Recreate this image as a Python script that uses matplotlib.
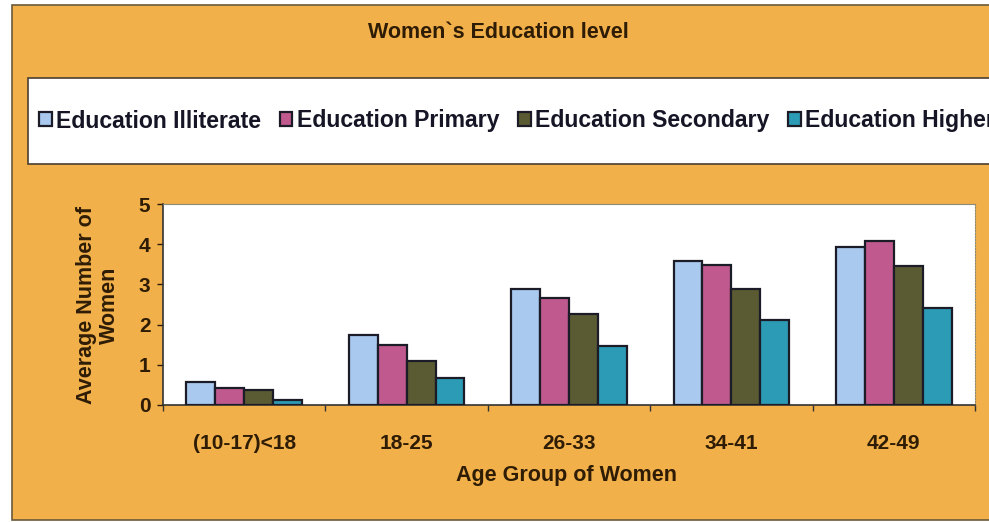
import numpy as np
import matplotlib.pyplot as plt
from matplotlib.patches import Rectangle

# data
ageGroups = ['(10-17)<18', '18-25', '26-33', '34-41', '42-49']
illiterate = [0.57, 1.74, 2.89, 3.58, 3.93]
primary = [0.43, 1.49, 2.67, 3.49, 4.08]
secondary = [0.38, 1.10, 2.27, 2.88, 3.47]
higher = [0.13, 0.67, 1.48, 2.12, 2.42]
seriesNames = ['Education Illiterate', 'Education Primary',
               'Education Secondary', 'Education Higher']
seriesColors = ['#A9C9EE', '#C05A8E', '#5B5B33', '#2C9BB5']

plt.rcParams['font.family'] = ['Liberation Sans', 'DejaVu Sans']
plt.rcParams['font.weight'] = 'bold'

bgColor = '#F1B04A'
txtColor = '#2E1C05'
W, H = 989, 522

fig = plt.figure(figsize=(W/100, H/100), dpi=100)
fig.patch.set_facecolor('white')

# orange panel and white legend strip
fig.add_artist(Rectangle((12/W, 2/H), 1.0, (H-7)/H, transform=fig.transFigure,
                         facecolor=bgColor, edgecolor='#6b5a3a', lw=1.2, zorder=0))
fig.add_artist(Rectangle((28/W, (H-164)/H), 1.0, 86/H, transform=fig.transFigure,
                         facecolor='white', edgecolor='#4a4030', lw=1.2, zorder=1))

ax = fig.add_axes([163/W, (H-405)/H, (975-163)/W, 201/H])
ax.set_facecolor('white')

x = np.arange(len(ageGroups))
width = 0.178
allSeries = [illiterate, primary, secondary, higher]
handles = []
for i, vals in enumerate(allSeries):
    b = ax.bar(x + (i - 1.5)*width, vals, width, color=seriesColors[i],
               edgecolor='#1c1c28', linewidth=1.6, label=seriesNames[i], zorder=3)
    handles.append(b)

ax.set_xlim(-0.5, len(ageGroups) - 0.5)
ax.set_ylim(0, 5)
ax.set_yticks(range(6))
ax.tick_params(axis='y', labelsize=15, colors=txtColor, length=4, width=1, pad=5)
ax.set_xticks(x)
ax.set_xticklabels(ageGroups)
ax.set_xticks(np.arange(-0.5, len(ageGroups), 1.0), minor=True)
ax.tick_params(axis='x', which='major', length=0, labelsize=15, colors=txtColor, pad=21)
ax.tick_params(axis='x', which='minor', length=4, width=1, color='#333333')
for lab in ax.get_xticklabels() + ax.get_yticklabels():
    lab.set_fontweight('bold')

for side in ['left', 'bottom']:
    ax.spines[side].set_color('#333333')
    ax.spines[side].set_linewidth(1.2)
ax.spines['top'].set_color('#8a8a7a')
ax.spines['right'].set_color('#8a8a7a')
ax.spines['right'].set_linestyle(':')

fig.text(498/W, 1 - 33/H, 'Women`s Education level', ha='center', va='center',
         fontsize=15.5, fontweight='bold', color=txtColor)
fig.text(566/W, 1 - 475/H, 'Age Group of Women', ha='center', va='center',
         fontsize=15.5, fontweight='bold', color=txtColor)
fig.text(98/W, 1 - 305/H, 'Average Number of\nWomen', ha='center', va='center',
         rotation=90, multialignment='center', fontsize=15.5, fontweight='bold',
         color=txtColor, linespacing=1.1)

leg = fig.legend(handles, seriesNames, loc='center left', bbox_to_anchor=(39/W, 1 - 121/H),
                 ncol=4, frameon=False, handlelength=0.55, handleheight=0.55,
                 handletextpad=0.2, columnspacing=0.8, fontsize=16.6,
                 borderaxespad=0, borderpad=0)
for t in leg.get_texts():
    t.set_color('#151525')
    t.set_fontweight('bold')

fig.savefig('out.png', dpi=100)
